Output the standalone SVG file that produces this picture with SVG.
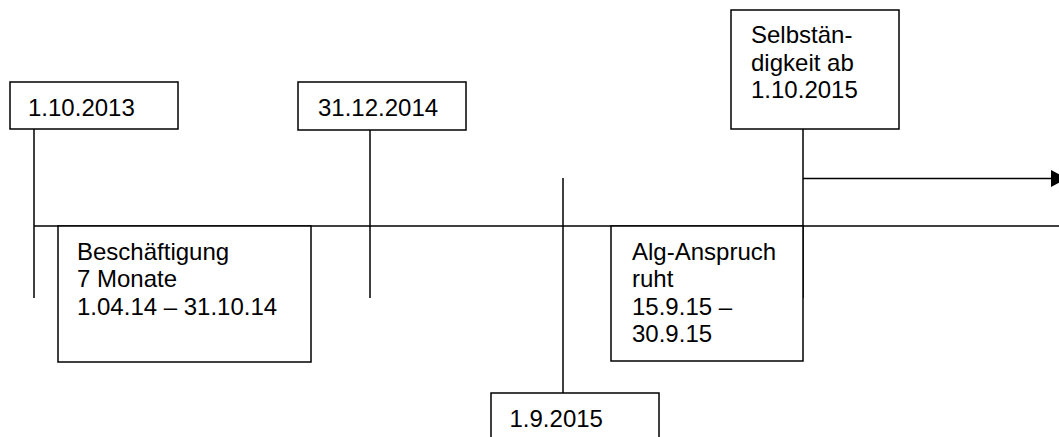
<svg xmlns="http://www.w3.org/2000/svg" width="1059" height="437" viewBox="0 0 1059 437">
<style>
.box{fill:#fff;stroke:#000;stroke-width:1.5}
.ln{stroke:#000;stroke-width:1.5;fill:none}
text{font-family:"Liberation Sans",Arial,sans-serif;font-size:24px;fill:#000}
</style>
<rect width="1059" height="437" fill="#fff"/>
<g id="connectors">
<line class="ln" x1="34" y1="226" x2="1059" y2="226"/>
<line class="ln" x1="34" y1="129" x2="34" y2="298"/>
<line class="ln" x1="370" y1="130" x2="370" y2="298"/>
<line class="ln" x1="563" y1="178" x2="563" y2="393"/>
<line class="ln" x1="803" y1="129" x2="803" y2="298"/>
<line class="ln" x1="803" y1="178.5" x2="1052" y2="178.5"/>
<polygon points="1051,170 1067,178.5 1051,187" fill="#000"/>
</g>
<g id="n1">
<rect class="box" x="10" y="82" width="168" height="47"/>
<text x="28" y="115.5">1.10.2013</text>
</g>
<g id="n2">
<rect class="box" x="298" y="82" width="168" height="48"/>
<text x="318" y="115.5">31.12.2014</text>
</g>
<g id="n3">
<rect class="box" x="58" y="226" width="253" height="136"/>
<text x="77" y="259.5">Beschäftigung</text>
<text x="77" y="287">7 Monate</text>
<text x="77" y="314.5">1.04.14 – 31.10.14</text>
</g>
<g id="n4">
<rect class="box" x="611" y="226" width="192" height="135"/>
<text x="632" y="259.5">Alg-Anspruch</text>
<text x="632" y="287">ruht</text>
<text x="632" y="314.5">15.9.15 –</text>
<text x="632" y="342">30.9.15</text>
</g>
<g id="n5">
<rect class="box" x="731" y="10" width="168" height="119"/>
<text x="751" y="43">Selbstän-</text>
<text x="751" y="70.5">digkeit ab</text>
<text x="751" y="98">1.10.2015</text>
</g>
<g id="n6">
<rect class="box" x="491" y="393" width="168" height="60"/>
<text x="509.5" y="427">1.9.2015</text>
</g>
</svg>
